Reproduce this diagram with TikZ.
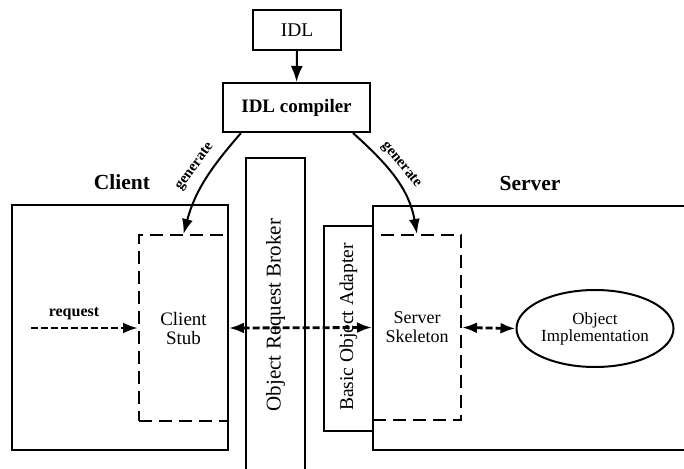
\documentclass[tikz,border=0pt]{standalone}
\usepackage{fontspec}
\setmainfont{Liberation Serif}
\usetikzlibrary{arrows.meta,shapes.geometric,calc}

\tikzset{
  box/.style={draw, line width=2.1pt, rectangle, inner sep=0pt},
  dbox/.style={draw, line width=2pt, rectangle, inner sep=0pt, dash pattern=on 13pt off 7pt},
  solidarrow/.style={line width=2pt, -{Latex[length=16pt,width=12pt]}},
  dasharrow/.style={line width=2.8pt, dash pattern=on 7pt off 3pt, -{Latex[length=15pt,width=11pt]}},
  ddasharrow/.style={line width=2.8pt, dash pattern=on 7pt off 3pt, {Latex[length=15pt,width=11pt]}-{Latex[length=15pt,width=11pt]}},
  genarrow/.style={line width=2pt, -{Latex[length=15pt,width=11pt]}},
  txt/.style={font=\fontsize{19}{21}\selectfont, align=center},
}

\begin{document}
\begin{tikzpicture}[x=1pt,y=-1pt]
  \useasboundingbox (0,0) rectangle (684,468);

  % top: IDL source and compiler
  \node[box, minimum width=88pt, minimum height=40pt, font=\fontsize{19.4}{21}\selectfont] (idl) at (297,30) {IDL};
  \node[box, minimum width=147pt, minimum height=49pt, font=\bfseries\fontsize{19}{21}\selectfont] (idlc) at (296.5,107.5) {IDL compiler};

  % client side
  \node[font=\bfseries\fontsize{21.5}{23}\selectfont] (clientlbl) at (122,182) {Client};
  \node[dbox, minimum width=89pt, minimum height=186pt, txt] (stub) at (183.5,328) {Client\\[-2pt]Stub};
  \node[box, minimum width=216pt, minimum height=245pt] (client) at (120,327.5) {};

  % object request broker (open at the bottom)
  \draw[line width=2.1pt] (246,480) -- (246,158) -- (305,158) -- (305,480);
  \node[rotate=90, font=\fontsize{21}{23}\selectfont] (orb) at (275.5,315) {Object Request Broker};

  % basic object adapter
  \node[box, minimum width=49pt, minimum height=205pt] (boa) at (348.5,328.5) {};
  \node[rotate=90, font=\fontsize{19.5}{21}\selectfont] (boatxt) at (348.5,327) {Basic Object Adapter};

  % server side
  \node[font=\bfseries\fontsize{21.5}{23}\selectfont] (serverlbl) at (530,183) {Server};
  \node[dbox, minimum width=88pt, minimum height=185pt, font=\fontsize{18}{20}\selectfont, align=center] (skel) at (417,327.5) {Server\\[-1pt]Skeleton};
  \node[box, minimum width=327pt, minimum height=244pt] (server) at (536.5,328) {};
  \node[draw, ellipse, line width=2pt, minimum width=157pt, minimum height=77pt, inner sep=0pt,
        font=\fontsize{17}{19}\selectfont, align=center] (impl) at (595,328.5) {Object\\[-2pt]Implementation};

  % connectors
  \draw[solidarrow] (idl.south) -- (idlc.north);

  \coordinate (gl) at ($(idlc.south west)+(19,0)$);
  \coordinate (gr) at ($(idlc.south east)+(-18,0)$);
  \draw[genarrow] (gl) to[out=229,in=75] (stub.north);
  \draw[genarrow] (gr) to[out=-42,in=100] (skel.north);
  \node[rotate=54, font=\bfseries\fontsize{15}{17}\selectfont] (genl) at (195,167) {generate};
  \node[rotate=-51, font=\bfseries\fontsize{15}{17}\selectfont] (genr) at (401,165) {generate};

  \coordinate (req) at (31,328);
  \node[font=\bfseries\fontsize{16}{18}\selectfont] (reqlbl) at (74,314) {request};
  \draw[dasharrow] (req) -- (stub.west);

  \draw[ddasharrow] (stub.east) -- (skel.west);
  \draw[ddasharrow] (skel.east) -- (impl.west);
\end{tikzpicture}
\end{document}
